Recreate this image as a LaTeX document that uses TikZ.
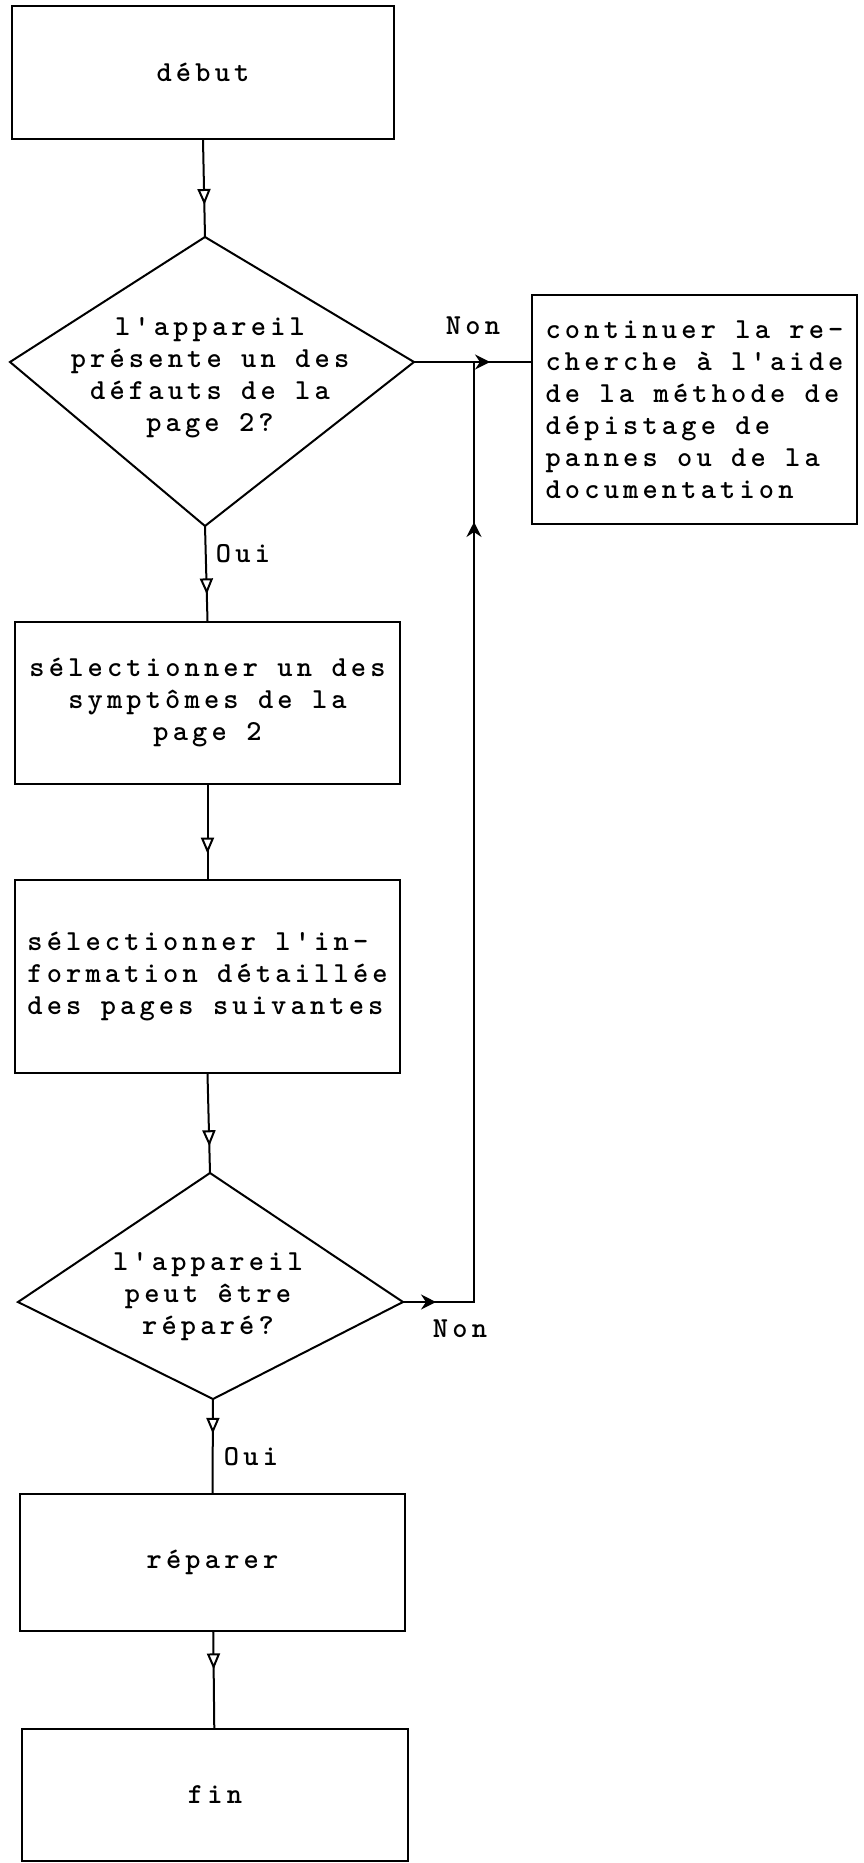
\documentclass[tikz,border=0pt]{standalone}
\usepackage{fontspec}
\usepackage{tikz}
\usetikzlibrary{arrows.meta,decorations.markings}
\newfontfamily\machine[LetterSpace=14.4]{lmmonolt10-bold.otf}

\begin{document}
\begin{tikzpicture}[x=0.5pt, y=-0.5pt, line width=1pt,
  font={\machine\fontsize{14.5pt}{16pt}\selectfont},
  fleche/.style={postaction=decorate, decoration={markings,
    mark=at position #1 with {\arrow{Triangle[open, fill=white, length=8pt, width=6.5pt]}}}},
  pointe/.style={postaction=decorate, decoration={markings,
    mark=at position #1 with {\arrow{Stealth[length=7.5pt, width=7.5pt, inset=2.5pt]}}}},
  retour/.style={postaction=decorate, decoration={markings,
    mark=at position 16.5pt with {\arrow{Stealth[length=7.5pt, width=7.5pt, inset=2.5pt]}},
    mark=at position 425.5pt with {\arrow{Stealth[length=7.5pt, width=7.5pt, inset=2.5pt]}}}}]

\tikzstyle{boite}=[draw, rectangle, inner sep=0pt]
\tikzstyle{texte}=[align=center, inner sep=0pt]
\useasboundingbox (0,0) rectangle (863,1863);

% boites
\node[boite, minimum width=191pt, minimum height=66.5pt] (debut) at (203,72.5) {début};
\node[boite, minimum width=162.5pt, minimum height=114.5pt, align=left] (autre) at (694.5,409.5)
  {continuer la re-\\cherche à l'aide\\de la méthode de\\dépistage de\\pannes ou de la\\documentation};
\node[boite, minimum width=192.5pt, minimum height=81pt, align=center] (symptome) at (207.5,703)
  {sélectionner un des\\symptômes de la\\page 2};
\node[boite, minimum width=192.5pt, minimum height=96.5pt, align=left] (info) at (207.5,976.5)
  {sélectionner l'in-\\formation détaillée\\des pages suivantes};
\node[boite, minimum width=192.5pt, minimum height=68.5pt] (reparer) at (212.5,1562.5) {réparer};
\node[boite, minimum width=193pt, minimum height=66pt] (fin) at (215,1795) {fin};

% losanges
\coordinate (q1n) at (205,237);  \coordinate (q1e) at (414,362);
\coordinate (q1s) at (205,526);  \coordinate (q1w) at (10,362);
\draw (q1n) -- (q1e) -- (q1s) -- (q1w) -- cycle;
\node[texte] (q1t) at (210,378) {l'appareil\\présente un des\\défauts de la\\page 2?};

\coordinate (q2n) at (210,1173); \coordinate (q2e) at (403,1302);
\coordinate (q2s) at (213,1399); \coordinate (q2w) at (18,1302);
\draw (q2n) -- (q2e) -- (q2s) -- (q2w) -- cycle;
\node[texte] (q2t) at (208,1297) {l'appareil\\peut être\\réparé?};

% etiquettes
\node[texte] (non1) at (473,326) {Non};
\node[texte] (oui1) at (243,554) {Oui};
\node[texte] (non2) at (460,1329) {Non};
\node[texte] (oui2) at (251,1457) {Oui};

% liaisons
\coordinate (coin) at (474,1302);
\coordinate (jonc) at (474,362);
\draw[fleche=0.67] (debut.south) -- (q1n);
\draw[fleche=0.72] (q1s) -- (symptome.north);
\draw[fleche=0.73] (symptome) -- (info);
\draw[fleche=0.73] (info.south) -- (q2n);
\draw[fleche=0.37] (q2s) -- (reparer.north);
\draw[fleche=0.39] (reparer) -- (fin);
\draw[pointe=38pt] (q1e) -- (q1e -| autre.west);
\draw[retour] (q2e) -- (coin) -- (jonc);

\end{tikzpicture}
\end{document}
